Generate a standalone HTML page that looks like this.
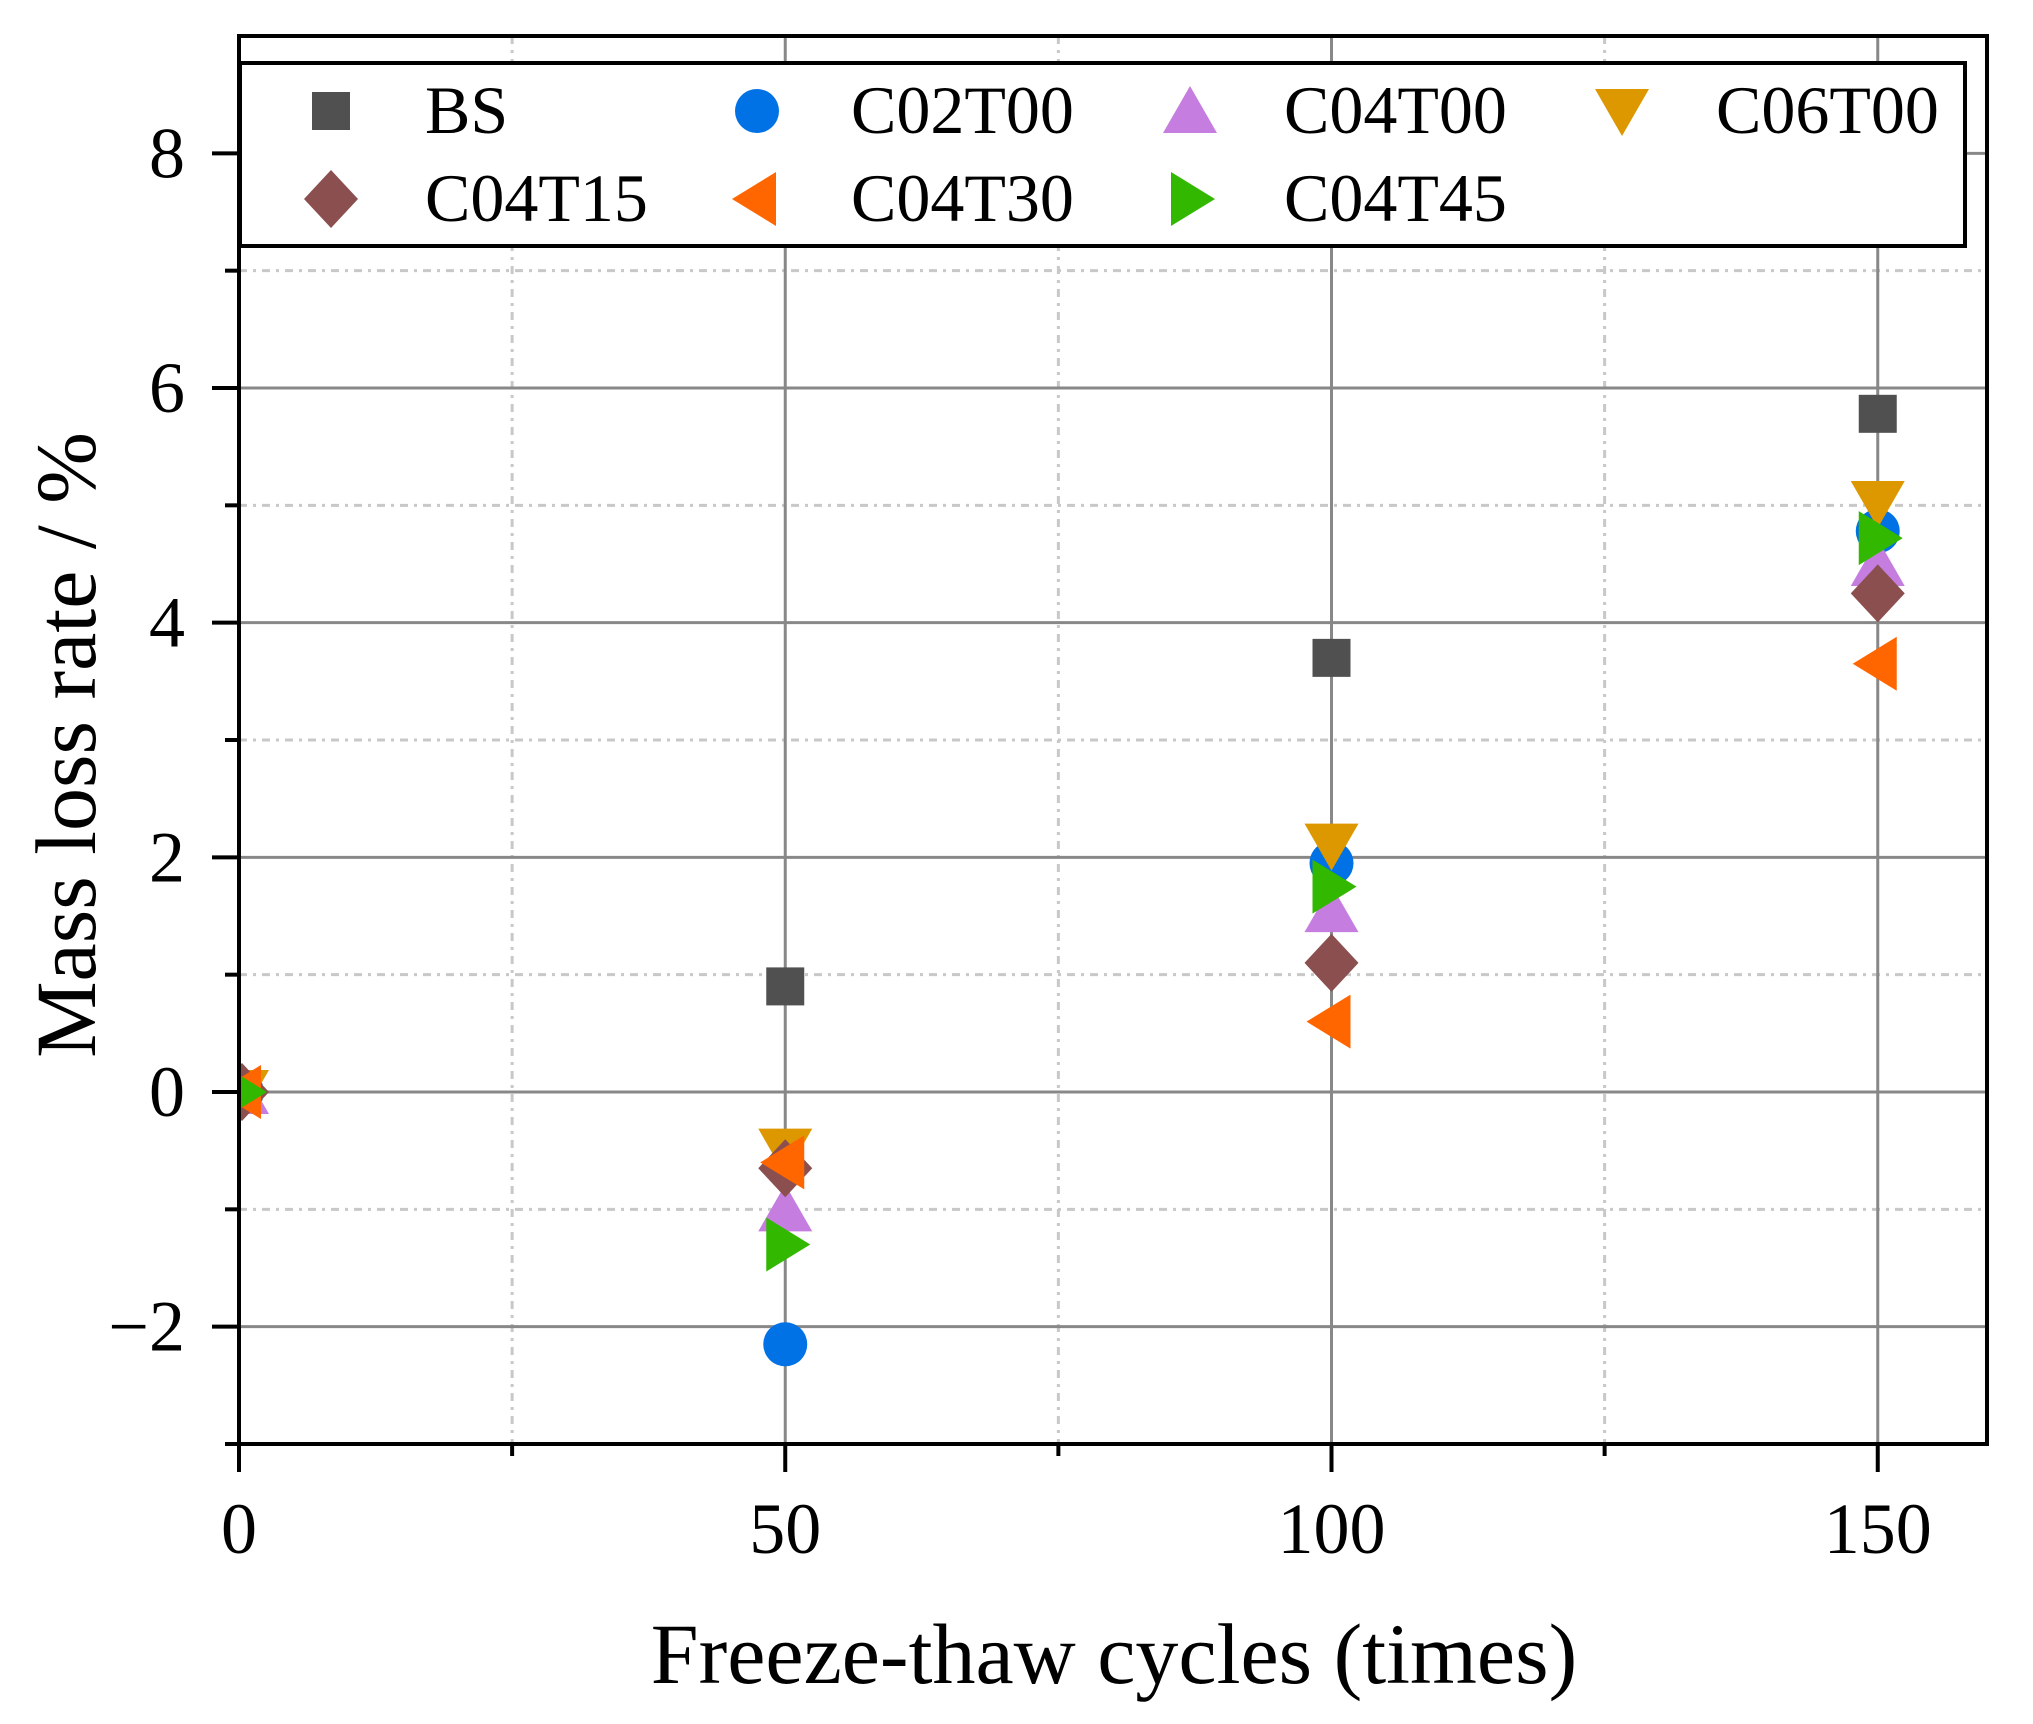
<!DOCTYPE html>
<html><head><meta charset="utf-8"><style>
html,body{margin:0;padding:0;background:#fff;}
svg{display:block;font-family:"Liberation Serif",serif;}
</style></head><body>
<svg id="chart" width="2033" height="1724" viewBox="0 0 2033 1724" xmlns="http://www.w3.org/2000/svg">
<defs><clipPath id="plotclip"><rect x="239" y="36" width="1748" height="1410"/></clipPath></defs>
<g id="grid"></g>
<g id="points" clip-path="url(#plotclip)"></g>
<g id="axes"></g>
<g id="legend"></g>
<text x="1114" y="1683" font-size="86" text-anchor="middle">Freeze-thaw cycles (times)</text>
<text transform="translate(95,745) rotate(-90)" font-size="86" text-anchor="middle">Mass loss rate / %</text>
</svg>
<script>
const cycles = [0, 50, 100, 150];
const seriesNames = ["BS","C02T00","C04T00","C06T00","C04T15","C04T30","C04T45"];
const valBS = [0, 0.9, 3.7, 5.78];
const valC02T00 = [0, -2.15, 1.95, 4.78];
const valC04T00 = [0, -1.0, 1.55, 4.5];
const valC06T00 = [0, -0.5, 2.1, 5.02];
const valC04T15 = [0, -0.65, 1.1, 4.25];
const valC04T30 = [0, -0.6, 0.6, 3.65];
const valC04T45 = [0, -1.3, 1.75, 4.72];
const xTicks = [0, 50, 100, 150];
const xMinor = [25, 75, 125];
const yTicks = [-2, 0, 2, 4, 6, 8];
const yMinor = [-3, -1, 1, 3, 5, 7];
const yTickLabels = ["\u22122","0","2","4","6","8"];

const X0=239, X1=1987, Y0=1444, Y1=36;
const xMin=0,xMax=160,yMin=-3,yMax=9;
function sx(v){return X0+(v-xMin)/(xMax-xMin)*(X1-X0);}
function sy(v){return Y0-(v-yMin)/(yMax-yMin)*(Y0-Y1);}
const NS="http://www.w3.org/2000/svg";
function mk(tag,attrs,parent){const e=document.createElementNS(NS,tag);for(const k in attrs)e.setAttribute(k,attrs[k]);parent.appendChild(e);return e;}

const grid=document.getElementById('grid');
xMinor.forEach(v=>{const l=mk('line',{x1:sx(v),x2:sx(v),y1:Y1,y2:Y0,stroke:'#c8c8c8','stroke-width':3,'stroke-dasharray':'8,6,3,6'},grid);

});
yMinor.forEach(v=>{const l=mk('line',{x1:X0,x2:X1,y1:sy(v),y2:sy(v),stroke:'#c8c8c8','stroke-width':3,'stroke-dasharray':'8,6,3,6'},grid);

});
xTicks.forEach(v=>{const l=mk('line',{x1:sx(v),x2:sx(v),y1:Y1,y2:Y0,stroke:'#888','stroke-width':3},grid);

});
yTicks.forEach(v=>{const l=mk('line',{x1:X0,x2:X1,y1:sy(v),y2:sy(v),stroke:'#888','stroke-width':3},grid);

});

const colors={BS:'#505050',C02T00:'#0072e6',C04T00:'#c67de0',C06T00:'#dd9800',C04T15:'#8b4f4f',C04T30:'#ff6600',C04T45:'#33b800'};
const shapes={BS:'square',C02T00:'circle',C04T00:'up',C06T00:'down',C04T15:'diamond',C04T30:'left',C04T45:'right'};
function marker(shape,cx,cy,c,parent){
  if(shape==='square')return mk('rect',{x:cx-19,y:cy-19,width:38,height:38,fill:c},parent);
  if(shape==='circle')return mk('circle',{cx:cx,cy:cy,r:22,fill:c},parent);
  let p;
  if(shape==='up')p=[[cx,cy-25],[cx+27,cy+22],[cx-27,cy+22]];
  if(shape==='down')p=[[cx-27,cy-22],[cx+27,cy-22],[cx,cy+25]];
  if(shape==='left')p=[[cx-25,cy],[cx+19,cy-27],[cx+19,cy+27]];
  if(shape==='right')p=[[cx+25,cy],[cx-19,cy-27],[cx-19,cy+27]];
  if(shape==='diamond')p=[[cx,cy-29],[cx+27,cy],[cx,cy+29],[cx-27,cy]];
  return mk('polygon',{points:p.map(q=>q.join(',')).join(' '),fill:c},parent);
}
const allVals={BS:valBS,C02T00:valC02T00,C04T00:valC04T00,C06T00:valC06T00,C04T15:valC04T15,C04T30:valC04T30,C04T45:valC04T45};
const pts=document.getElementById('points');
seriesNames.forEach(n=>{
  const g=mk('g',{},pts);
  
  
  allVals[n].forEach((v,i)=>{
    const m=marker(shapes[n],sx(cycles[i])+(i===0?3:0),sy(v),colors[n],g);
    
    
  });
});

const ax=document.getElementById('axes');
mk('rect',{x:X0,y:Y1,width:X1-X0,height:Y0-Y1,fill:'none',stroke:'#000','stroke-width':4},ax);
xTicks.forEach((v,i)=>{
  mk('line',{x1:sx(v),x2:sx(v),y1:Y0,y2:Y0+28,stroke:'#000','stroke-width':4},ax);
  const t=mk('text',{x:sx(v),y:Y0+109,'font-size':72,'text-anchor':'middle'},ax);
  t.textContent=String(v);
  
  
});
xMinor.forEach(v=>mk('line',{x1:sx(v),x2:sx(v),y1:Y0,y2:Y0+12,stroke:'#000','stroke-width':4},ax));
yTicks.forEach((v,i)=>{
  mk('line',{x1:X0-27,x2:X0,y1:sy(v),y2:sy(v),stroke:'#000','stroke-width':4},ax);
  const t=mk('text',{x:185,y:sy(v)+24,'font-size':72,'text-anchor':'end'},ax);
  t.textContent=yTickLabels[i];
  
  
});
yMinor.forEach(v=>mk('line',{x1:X0-14,x2:X0,y1:sy(v),y2:sy(v),stroke:'#000','stroke-width':4},ax));

const lg=document.getElementById('legend');
mk('rect',{x:240,y:63,width:1725,height:183,fill:'#fff',stroke:'#000','stroke-width':4},lg);
const legPos=[[331,111],[757,111],[1190,111],[1622,111],[331,199],[757,199],[1190,199]];
seriesNames.forEach((n,i)=>{
  const g=mk('g',{},lg);
  
  
  const [mx,my]=legPos[i];
  marker(shapes[n],mx,my,colors[n],g);
  const t=mk('text',{x:mx+94,y:my+22,'font-size':68},g);
  t.textContent=n;
});
</script>
</body></html>
